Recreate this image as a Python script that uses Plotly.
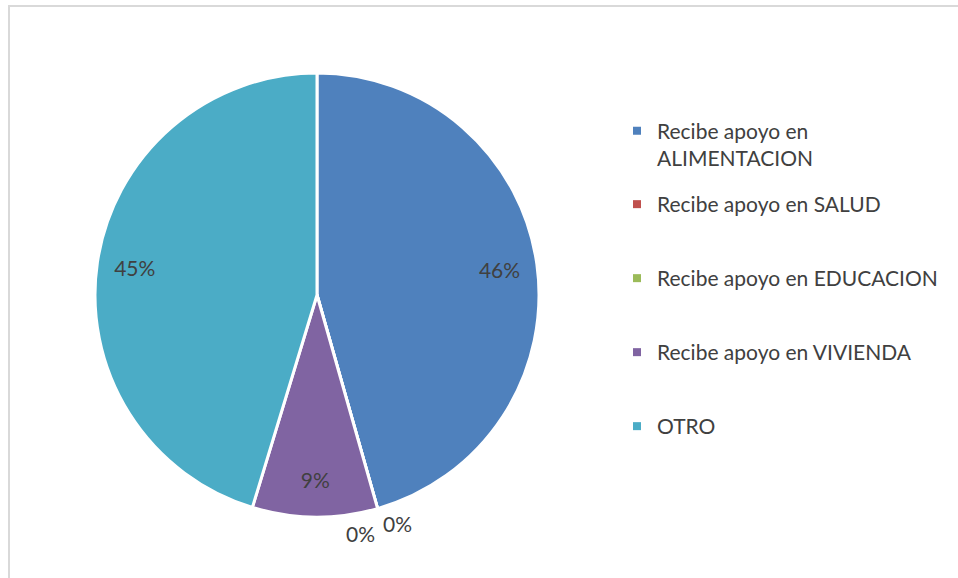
import math
import plotly.graph_objects as go

categories = [
    "Recibe apoyo en ALIMENTACION",
    "Recibe apoyo en SALUD",
    "Recibe apoyo en EDUCACION",
    "Recibe apoyo en VIVIENDA",
    "OTRO",
]
legend_labels = [
    "Recibe apoyo en<br>ALIMENTACION",
    "Recibe apoyo en SALUD",
    "Recibe apoyo en EDUCACION",
    "Recibe apoyo en VIVIENDA",
    "OTRO",
]
values = [45.6, 0, 0, 9.1, 45.3]
colors = ["#4F81BD", "#C0504D", "#9BBB59", "#8064A2", "#4BACC6"]

W, H = 958, 578
FONT = "Lato"
TXT = "#404040"
LBL_SIZE = 21

# pie geometry (pixels): center and radius
cx, cy, r = 317, 295, 222
dom_x = [(cx - r) / W, (cx + r) / W]
dom_y = [(H - cy - r) / H, (H - cy + r) / H]

fig = go.Figure()

# main pie (slices)
fig.add_trace(go.Pie(
    labels=categories, values=values, sort=False, direction="clockwise",
    rotation=0, marker=dict(colors=colors, line=dict(color="white", width=3)),
    textinfo="none", showlegend=False, hoverinfo="label+percent",
    domain=dict(x=dom_x, y=dom_y),
))

# transparent ring pie carrying the percentage labels near the outer edge
textpos = ["inside" if v > 0 else "none" for v in values]
fig.add_trace(go.Pie(
    labels=categories, values=values, sort=False, direction="clockwise",
    rotation=0, hole=0.66,
    marker=dict(colors=["rgba(0,0,0,0)"] * len(values), line=dict(width=0)),
    texttemplate="%{percent:.0%}", textposition=textpos,
    insidetextfont=dict(family=FONT, size=LBL_SIZE, color=TXT),
    showlegend=False, hoverinfo="skip",
    domain=dict(x=dom_x, y=dom_y),
))

# labels for zero-valued slices, placed just outside the rim at their (empty) slice angle
total = sum(values)
annotations = []
zero_idx = [i for i, v in enumerate(values) if v == 0]
for k, i in enumerate(zero_idx):
    ang = 2 * math.pi * sum(values[:i]) / total
    ang += math.radians(1.0) + math.radians(9.2) * (k - (len(zero_idx) - 1) / 2)
    rl = 1.09 * r
    px = cx + rl * math.sin(ang)
    py = cy - rl * math.cos(ang)
    annotations.append(dict(
        x=px / W, y=(H - py) / H, xref="paper", yref="paper",
        text=f"{values[i] / total:.0%}", showarrow=False,
        font=dict(family=FONT, size=LBL_SIZE, color=TXT),
        xanchor="center", yanchor="middle",
    ))

# legend entries (first in its own legend so the wrapped label keeps Excel-like spacing)
for i, (lab, col) in enumerate(zip(legend_labels, colors)):
    fig.add_trace(go.Scatter(
        x=[None], y=[None], mode="markers", name=lab,
        marker=dict(symbol="square", size=8, color=col),
        legendgroup=f"g{i}", showlegend=True,
        legend="legend" if i == 0 else "legend2",
    ))

leg_common = dict(
    xanchor="left", yanchor="top",
    font=dict(family=FONT, size=21, color=TXT),
    valign="top", bgcolor="rgba(0,0,0,0)",
    itemclick=False, itemdoubleclick=False,
)

fig.update_layout(
    width=W, height=H,
    margin=dict(l=0, r=0, t=0, b=0),
    paper_bgcolor="white", plot_bgcolor="white",
    xaxis=dict(visible=False), yaxis=dict(visible=False),
    font=dict(family=FONT, color=TXT),
    legend=dict(x=617 / W, y=(H - 110.5) / H, **leg_common),
    legend2=dict(x=617 / W, y=(H - 184) / H, tracegroupgap=43.7, **leg_common),
    annotations=annotations,
    shapes=[dict(
        type="rect", xref="paper", yref="paper",
        x0=9 / W, x1=1.02, y0=-0.02, y1=(H - 6) / H,
        line=dict(color="#D9D9D9", width=2), fillcolor="rgba(0,0,0,0)",
        layer="below",
    )],
)

fig.write_html(
    "out.html",
    config={"displayModeBar": False},
    post_script="document.body.style.margin='0';",
)
